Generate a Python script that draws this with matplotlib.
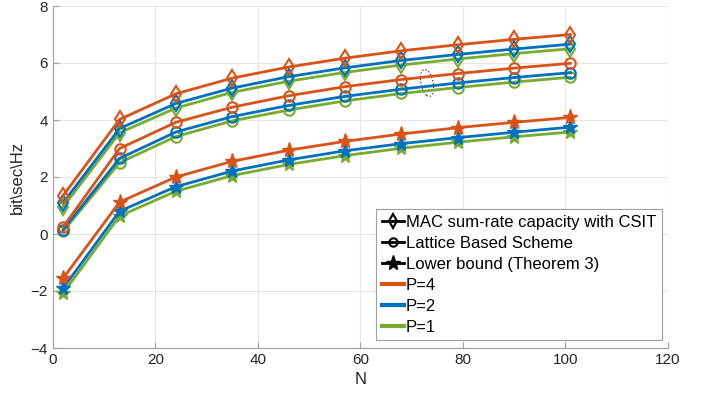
import matplotlib
matplotlib.use("Agg")
import matplotlib.pyplot as plt
from matplotlib.lines import Line2D
from matplotlib.patches import Ellipse
import numpy as np

plt.rcParams['font.family'] = ['Liberation Sans', 'DejaVu Sans']

# data
N = [2, 13, 24, 35, 46, 57, 68, 79, 90, 101]

mac_p4 = [1.35, 4.02, 4.92, 5.47, 5.86, 6.17, 6.43, 6.64, 6.83, 7.00]
mac_p2 = [1.10, 3.70, 4.58, 5.12, 5.52, 5.83, 6.09, 6.30, 6.49, 6.66]
mac_p1 = [0.95, 3.55, 4.42, 4.97, 5.36, 5.67, 5.93, 6.14, 6.33, 6.50]

lat_p4 = [0.25, 3.00, 3.92, 4.45, 4.85, 5.17, 5.42, 5.63, 5.82, 5.99]
lat_p2 = [0.15, 2.65, 3.58, 4.12, 4.51, 4.83, 5.08, 5.30, 5.49, 5.66]
lat_p1 = [0.10, 2.50, 3.42, 3.97, 4.35, 4.67, 4.93, 5.14, 5.33, 5.50]

low_p4 = [-1.55, 1.12, 2.00, 2.55, 2.94, 3.25, 3.51, 3.73, 3.92, 4.09]
low_p2 = [-1.90, 0.80, 1.66, 2.21, 2.60, 2.92, 3.17, 3.38, 3.57, 3.75]
low_p1 = [-2.08, 0.63, 1.50, 2.05, 2.44, 2.75, 3.01, 3.22, 3.41, 3.58]

orange = '#D95319'
blue = '#0072BD'
green = '#77AC30'

fig = plt.figure(figsize=(7.15, 4), dpi=100)
ax = fig.add_axes([0.074, 0.13, 0.86, 0.855])

series = [
    (mac_p1, green, 'D'), (mac_p2, blue, 'D'), (mac_p4, orange, 'D'),
    (lat_p1, green, 'o'), (lat_p2, blue, 'o'), (lat_p4, orange, 'o'),
    (low_p1, green, '*'), (low_p2, blue, '*'), (low_p4, orange, '*'),
]
for y, c, m in series:
    if m == '*':
        ax.plot(N, y, color=c, lw=2, marker='*', ms=11, mfc=c, mec=c)
    elif m == 'D':
        ax.plot(N, y, color=c, lw=2, marker='d', ms=8, mfc='none', mec=c, mew=1.5)
    else:
        ax.plot(N, y, color=c, lw=2, marker='o', ms=7.5, mfc='none', mec=c, mew=1.5)

# dotted ellipse marking the lattice curves
ax.add_patch(Ellipse((73, 5.3), 2.6, 0.88, angle=-8, fill=False,
                     ls=':', lw=0.9, ec='#333333'))

ax.set_xlim(0, 120)
ax.set_ylim(-4, 8)
ax.set_xticks(np.arange(0, 121, 20))
ax.set_yticks(np.arange(-4, 9, 2))
ax.grid(True, color='#e6e6e6', lw=0.8)
ax.set_axisbelow(True)
for s in ['top', 'right']:
    ax.spines[s].set_visible(False)
for s in ['left', 'bottom']:
    ax.spines[s].set_color('#a0a0a0')
ax.tick_params(labelsize=11, colors='#262626', direction='in', length=4)
ax.tick_params(axis='both', color='#a0a0a0')
ax.set_xlabel('N', fontsize=12, color='#262626')
ax.set_ylabel('bit\\sec\\Hz', fontsize=12, color='#262626')

handles = [
    Line2D([], [], color='k', lw=2, marker='d', ms=7, mfc='none', mew=1.5),
    Line2D([], [], color='k', lw=2, marker='o', ms=6, mfc='none', mew=1.5),
    Line2D([], [], color='k', lw=2, marker='*', ms=11),
    Line2D([], [], color=orange, lw=3),
    Line2D([], [], color=blue, lw=3),
    Line2D([], [], color=green, lw=3),
]
labels = ['MAC sum-rate capacity with CSIT', 'Lattice Based Scheme',
          'Lower bound (Theorem 3)', 'P=4', 'P=2', 'P=1']
leg = ax.legend(handles, labels, loc='lower right', bbox_to_anchor=(0.99, 0.022),
                fontsize=12, handlelength=1.3, handletextpad=0.1,
                labelspacing=0.36, borderpad=0.35, borderaxespad=0,
                fancybox=False, edgecolor='#a0a0a0', framealpha=1)
leg.get_frame().set_linewidth(0.8)

fig.savefig('out.png', dpi=100)
